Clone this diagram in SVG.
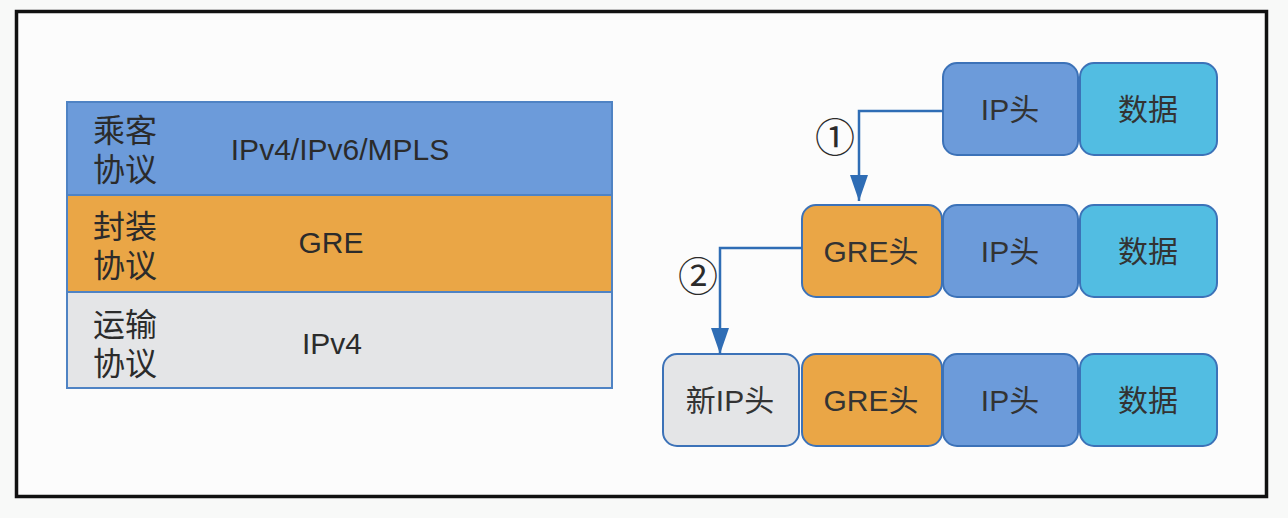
<svg xmlns="http://www.w3.org/2000/svg" width="1288" height="518" viewBox="0 0 1288 518">
<defs>
<marker id="arr" markerUnits="userSpaceOnUse" markerWidth="28" markerHeight="20" refX="26" refY="9" orient="auto">
<path d="M0,0 L26,9 L0,18 z" fill="#2F6DB5"/>
</marker>
</defs>
<style>
.t{font-family:"Liberation Sans","Noto Sans CJK SC",sans-serif;fill:#2b2b2b}
.lbl{font-size:32px}
.mid{font-size:30px;text-anchor:middle}
.bx{stroke:#3C72B8;stroke-width:2}
.blue{fill:#6C9BDA}
.cyan{fill:#52BDE2}
.orange{fill:#EAA646}
.gray{fill:#E4E5E7}
.bt{font-family:"Liberation Sans","Noto Sans CJK SC",sans-serif;font-size:30px;text-anchor:middle;fill:#333}
.conn{fill:none;stroke:#2F6DB5;stroke-width:2.5}
.num{font-family:"Noto Sans CJK SC",sans-serif;font-size:40px;text-anchor:middle;fill:#2b2b2b}
</style>
<rect x="0" y="0" width="1288" height="518" fill="#f8f9f8"/>
<rect id="frame" x="16.5" y="11.5" width="1250" height="485" fill="#fcfcfc" stroke="#111" stroke-width="3.5"/>

<g id="table">
<g id="row-passenger">
<rect x="67" y="102" width="545" height="93" class="blue" stroke="#4F83C4" stroke-width="2"/>
<text class="t lbl" x="93" y="142">乘客</text>
<text class="t lbl" x="93" y="181">协议</text>
<text class="t mid" x="340" y="160">IPv4/IPv6/MPLS</text>
</g>
<g id="row-encap">
<rect x="67" y="195" width="545" height="97" class="orange" stroke="#4F83C4" stroke-width="2"/>
<text class="t lbl" x="93" y="238">封装</text>
<text class="t lbl" x="93" y="277">协议</text>
<text class="t mid" x="331" y="253">GRE</text>
</g>
<g id="row-transport">
<rect x="67" y="292" width="545" height="96" class="gray" stroke="#4F83C4" stroke-width="2"/>
<text class="t lbl" x="93" y="336">运输</text>
<text class="t lbl" x="93" y="375">协议</text>
<text class="t mid" x="332" y="354">IPv4</text>
</g>
</g>

<g id="r1-ip"><rect x="943" y="63" width="135" height="92" rx="14" class="bx blue"/><text class="bt" x="1010" y="120">IP头</text></g>
<g id="r1-data"><rect x="1080" y="63" width="137" height="92" rx="14" class="bx cyan"/><text class="bt" x="1148" y="120">数据</text></g>

<g id="r2-gre"><rect x="802" y="205" width="140" height="92" rx="14" class="bx orange"/><text class="bt" x="871" y="262">GRE头</text></g>
<g id="r2-ip"><rect x="943" y="205" width="135" height="92" rx="14" class="bx blue"/><text class="bt" x="1010" y="262">IP头</text></g>
<g id="r2-data"><rect x="1080" y="205" width="137" height="92" rx="14" class="bx cyan"/><text class="bt" x="1148" y="262">数据</text></g>

<g id="r3-newip"><rect x="663" y="354" width="136" height="92" rx="14" class="bx gray"/><text class="bt" x="730" y="411">新IP头</text></g>
<g id="r3-gre"><rect x="802" y="354" width="140" height="92" rx="14" class="bx orange"/><text class="bt" x="871" y="411">GRE头</text></g>
<g id="r3-ip"><rect x="943" y="354" width="135" height="92" rx="14" class="bx blue"/><text class="bt" x="1010" y="411">IP头</text></g>
<g id="r3-data"><rect x="1080" y="354" width="137" height="92" rx="14" class="bx cyan"/><text class="bt" x="1148" y="411">数据</text></g>

<g id="connectors">
<polyline class="conn" points="943,111 859,111 859,201" marker-end="url(#arr)"/>
<polyline class="conn" points="802,248 720,248 720,354" marker-end="url(#arr)"/>
<text class="num" x="835" y="152">①</text>
<text class="num" x="698" y="291">②</text>
</g>
</svg>
